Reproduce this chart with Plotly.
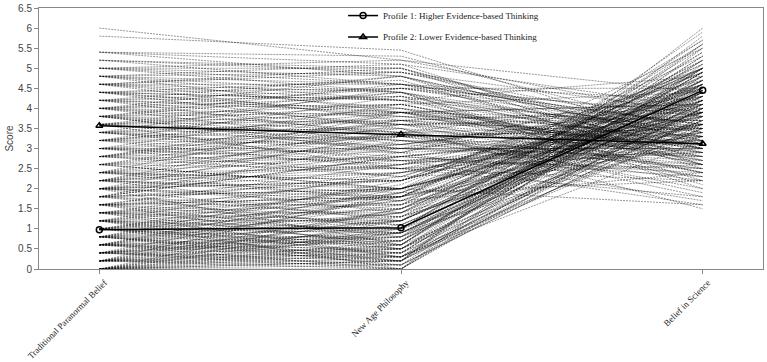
import plotly.graph_objects as go

categories = ["Traditional Paranormal Belief", "New Age Philosophy", "Belief in Science"]

# Individual trajectories - batch 1
trad = [
    0.0, 0.0, 0.0, 0.0, 0.0, 0.0, 0.0, 0.0,
    0.2, 0.2, 0.2, 0.2, 0.2, 0.2, 0.2, 0.2,
    0.4, 0.4, 0.4, 0.4, 0.4, 0.4, 0.4, 0.4,
    0.6, 0.6, 0.6, 0.6, 0.6, 0.6, 0.6, 0.6,
    0.8, 0.8, 0.8, 0.8, 0.8, 0.8, 0.8, 0.8,
    1.0, 1.0, 1.0, 1.0, 1.0, 1.0, 1.0,
    1.2, 1.2, 1.2, 1.2, 1.2, 1.2, 1.2,
    1.4, 1.4, 1.4, 1.4, 1.4, 1.4,
    1.6, 1.6, 1.6, 1.6, 1.6,
    1.8, 1.8, 1.8, 1.8,
    2.0, 2.0, 2.0, 2.0,
    2.2, 2.2, 2.2,
    2.4, 2.4,
    2.6,
    1.6, 1.6,
    1.8, 1.8, 1.8,
    2.0, 2.0, 2.0,
    2.2, 2.2, 2.2, 2.2,
    2.4, 2.4, 2.4, 2.4,
    2.6, 2.6, 2.6, 2.6,
    2.8, 2.8, 2.8, 2.8, 2.8,
    3.0, 3.0, 3.0, 3.0, 3.0,
    3.2, 3.2, 3.2, 3.2, 3.2,
    3.4, 3.4, 3.4, 3.4, 3.4,
    3.6, 3.6, 3.6, 3.6, 3.6,
    3.8, 3.8, 3.8, 3.8, 3.8,
    4.0, 4.0, 4.0, 4.0, 4.0,
    4.2, 4.2, 4.2, 4.2,
    4.4, 4.4, 4.4, 4.4,
    4.6, 4.6, 4.6, 4.6,
    4.8, 4.8, 4.8, 4.8,
    5.0, 5.0, 5.0,
    5.2, 5.2,
    5.4, 5.4,
    5.8,
    6.0,
]
new_age = [
    0.0, 0.3, 0.1, 0.6, 0.2, 0.9, 0.4, 1.2,
    0.0, 0.5, 0.8, 0.2, 1.1, 0.3, 1.5, 0.6,
    0.1, 0.7, 1.0, 0.3, 1.4, 0.0, 0.9, 1.8,
    0.4, 0.2, 1.2, 0.8, 1.6, 0.5, 2.0, 0.0,
    0.6, 1.0, 0.3, 1.4, 0.8, 1.9, 0.1, 2.2,
    0.7, 1.3, 0.4, 1.7, 1.0, 2.1, 0.2,
    0.9, 1.5, 0.5, 2.0, 1.2, 2.4, 0.0,
    1.1, 1.8, 0.6, 2.3, 1.4, 0.3,
    1.3, 2.0, 0.8, 2.6, 1.6,
    1.5, 2.2, 1.0, 2.8,
    1.8, 2.4, 1.2, 0.6,
    2.0, 1.4, 2.6,
    1.7, 2.2,
    2.0,
    2.4, 1.8,
    2.8, 2.0, 3.2,
    2.6, 3.4, 2.2,
    3.0, 2.4, 3.6, 1.9,
    2.8, 3.4, 2.2, 3.9,
    3.1, 2.5, 3.7, 2.0,
    3.3, 2.7, 3.9, 2.3, 3.5,
    3.0, 3.6, 2.6, 4.1, 2.9,
    3.3, 2.8, 3.8, 4.3, 3.1,
    3.5, 3.0, 4.0, 2.7, 4.5,
    3.4, 3.9, 3.0, 4.4, 2.5,
    3.6, 4.1, 3.2, 4.6, 2.9,
    3.8, 4.3, 3.4, 4.8, 3.1,
    4.0, 3.6, 4.5, 3.3,
    4.2, 3.8, 4.7, 3.5,
    4.4, 4.0, 4.9, 3.7,
    4.6, 4.2, 5.1, 3.9,
    4.8, 4.4, 5.2,
    5.0, 4.6,
    5.3, 4.8,
    5.45,
    5.2,
]
science = [
    4.6, 5.2, 3.8, 4.9, 5.6, 4.2, 3.5, 4.8,
    4.4, 5.0, 3.9, 5.8, 4.5, 3.2, 4.7, 5.3,
    4.1, 4.9, 5.5, 3.6, 4.3, 5.1, 4.0, 3.4,
    4.8, 6.0, 4.4, 3.7, 5.0, 4.6, 3.9, 4.2,
    5.4, 4.1, 4.7, 3.3, 5.7, 4.5, 3.8, 4.9,
    4.3, 5.2, 4.0, 4.6, 3.5, 5.0, 4.8,
    4.4, 3.9, 5.3, 4.1, 4.7, 3.6, 5.5,
    4.2, 4.9, 3.7, 4.5, 5.1, 4.0,
    4.6, 3.8, 5.0, 4.3, 3.4,
    4.8, 4.1, 5.6, 3.6,
    4.4, 3.9, 4.7, 5.2,
    4.0, 4.6, 3.3,
    4.2, 5.0,
    4.5,
    3.0, 3.6,
    2.4, 3.9, 2.8,
    3.4, 1.8, 4.2,
    2.6, 3.8, 3.1, 2.2,
    3.5, 2.0, 4.4, 3.0,
    2.7, 3.3, 4.0, 1.6,
    3.2, 2.5, 3.7, 4.6, 1.9,
    3.0, 2.3, 3.8, 2.8, 4.3,
    2.6, 3.4, 3.1, 2.1, 4.1,
    2.9, 3.6, 2.4, 3.2, 3.9,
    3.3, 2.7, 4.5, 3.0, 2.2,
    3.5, 2.6, 3.1, 3.8, 1.7,
    3.0, 3.4, 2.5, 2.9, 4.0,
    3.2, 2.8, 3.6, 2.3,
    3.1, 3.7, 2.6, 1.5,
    3.3, 2.9, 3.9, 2.4,
    3.0, 3.5, 2.7, 4.1,
    3.2, 2.8, 3.8,
    3.0, 4.2,
    3.4, 2.5,
    3.1,
    4.4,
]

# batch 2
trad2 = [
    0.0, 0.0, 0.0, 0.2, 0.2, 0.2, 0.4, 0.4, 0.4, 0.6, 0.6, 0.6, 0.8, 0.8, 0.8,
    1.0, 1.0, 1.0, 1.0, 1.2, 1.2, 1.2, 1.4, 1.4, 1.4, 1.6, 1.6, 1.6, 1.8, 1.8,
    2.0, 2.0, 2.2, 2.4, 0.0, 0.2, 0.4, 0.6, 0.8, 1.0, 1.2, 1.4, 0.0, 0.2, 0.6,
    2.0, 2.2, 2.4, 2.6, 2.6, 2.8, 2.8, 3.0, 3.0, 3.2, 3.2, 3.4, 3.4, 3.6, 3.6,
    3.8, 3.8, 4.0, 4.0, 4.2, 4.2, 4.4, 4.4, 4.6, 4.6, 4.8, 4.8, 5.0, 5.0, 5.2,
    5.4, 2.0, 2.4, 3.0, 3.4, 3.6, 3.8, 4.0, 4.2, 4.4, 2.2, 2.8, 3.2, 3.8, 4.6,
]
new_age2 = [
    0.5, 1.0, 0.2, 0.9, 0.1, 1.3, 0.5, 1.2, 0.2, 0.9, 1.4, 0.3, 1.2, 0.4, 1.7,
    0.6, 1.5, 0.9, 1.9, 1.0, 0.3, 1.8, 0.9, 1.6, 2.0, 1.1, 1.8, 0.5, 1.3, 2.0,
    1.6, 2.2, 1.8, 2.0, 0.7, 0.4, 0.8, 0.7, 0.2, 0.5, 0.7, 1.2, 1.5, 1.9, 1.8,
    2.9, 2.7, 3.1, 2.8, 3.4, 3.0, 3.7, 3.3, 2.3, 3.6, 2.5, 3.7, 3.2, 3.7, 3.2,
    3.9, 3.4, 4.1, 3.6, 4.3, 3.9, 4.5, 3.9, 4.6, 4.2, 4.9, 4.4, 4.6, 5.0, 4.9,
    5.1, 1.7, 2.5, 2.7, 2.9, 4.1, 4.4, 4.5, 4.8, 4.2, 3.3, 2.5, 3.9, 3.0, 5.0,
]
science2 = [
    4.0, 5.4, 4.3, 4.1, 5.0, 3.6, 4.6, 5.7, 3.9, 4.5, 5.2, 3.5, 4.4, 5.0, 3.8,
    5.6, 4.2, 3.3, 4.9, 4.6, 4.0, 5.1, 4.7, 3.9, 5.5, 4.1, 5.3, 4.4, 3.7, 4.6,
    5.0, 4.2, 4.8, 3.6, 4.7, 4.9, 4.4, 5.9, 4.2, 3.7, 4.9, 4.3, 5.0, 4.3, 3.1,
    3.2, 2.9, 3.9, 2.3, 3.6, 2.8, 3.3, 3.5, 2.6, 3.8, 2.9, 3.1, 2.2, 3.9, 2.5,
    3.3, 4.3, 2.7, 3.7, 3.0, 4.1, 3.4, 2.9, 3.6, 2.6, 3.3, 2.2, 3.6, 2.6, 3.5,
    4.0, 2.4, 1.8, 1.6, 4.7, 4.4, 2.0, 4.5, 3.2, 4.8, 3.5, 3.9, 2.4, 3.0, 3.1,
]

profile1_name = "Profile 1: Higher Evidence-based Thinking"
profile1 = [0.98, 1.03, 4.45]
profile2_name = "Profile 2: Lower Evidence-based Thinking"
profile2 = [3.57, 3.35, 3.12]

xpos = list(range(len(categories)))

lx, ly = [], []
for t, n, s in zip(trad + trad2, new_age + new_age2, science + science2):
    lx += xpos + [None]
    ly += [t, n, s, None]

fig = go.Figure()
fig.add_trace(go.Scatter(
    x=lx, y=ly, mode="lines", showlegend=False, hoverinfo="skip",
    line=dict(color="rgba(0,0,0,0.75)", width=0.55, dash="2px,1px"),
))
fig.add_trace(go.Scatter(
    x=xpos, y=profile1, mode="lines+markers", name=profile1_name,
    line=dict(color="black", width=1.5),
    marker=dict(symbol="circle-open", size=6, color="black", line=dict(width=1.5)),
    legend="legend",
))
fig.add_trace(go.Scatter(
    x=xpos, y=profile2, mode="lines+markers", name=profile2_name,
    line=dict(color="black", width=1.5),
    marker=dict(symbol="triangle-up-open", size=6, color="black", line=dict(width=1.5)),
    legend="legend2",
))

serif = "Liberation Serif, Times New Roman, serif"
sans = "Liberation Sans, Arial, sans-serif"
legend_common = dict(
    font=dict(family=serif, size=9, color="#222"),
    bgcolor="rgba(0,0,0,0)", xanchor="left", yanchor="middle",
    itemwidth=30,
)
fig.update_layout(
    width=767, height=362,
    margin=dict(l=39, r=4, t=8, b=93, autoexpand=False),
    paper_bgcolor="white", plot_bgcolor="white",
    legend=dict(x=0.42, y=0.971, **legend_common),
    legend2=dict(x=0.42, y=0.889, **legend_common),
    xaxis=dict(
        range=[-0.2, 2.2], tickmode="array", tickvals=xpos, ticktext=categories,
        tickangle=-45, ticks="outside", ticklen=4, tickcolor="#888",
        showline=True, linecolor="#888", linewidth=1, mirror=True,
        showgrid=False, zeroline=False, automargin=False,
        ticklabelshift=5, ticklabelstandoff=0,
        tickfont=dict(family=serif, size=9, color="#222"),
    ),
    yaxis=dict(
        range=[0, 6.5], dtick=0.5, tick0=0, ticks="outside", ticklen=4, tickcolor="#888",
        showline=True, linecolor="#888", linewidth=1, mirror=True,
        showgrid=False, zeroline=False, automargin=False,
        tickfont=dict(family=sans, size=10, color="#444"),
        title=dict(text="Score", font=dict(family=sans, size=10, color="#444"), standoff=2),
    ),
)

fig.write_html("out.html")
